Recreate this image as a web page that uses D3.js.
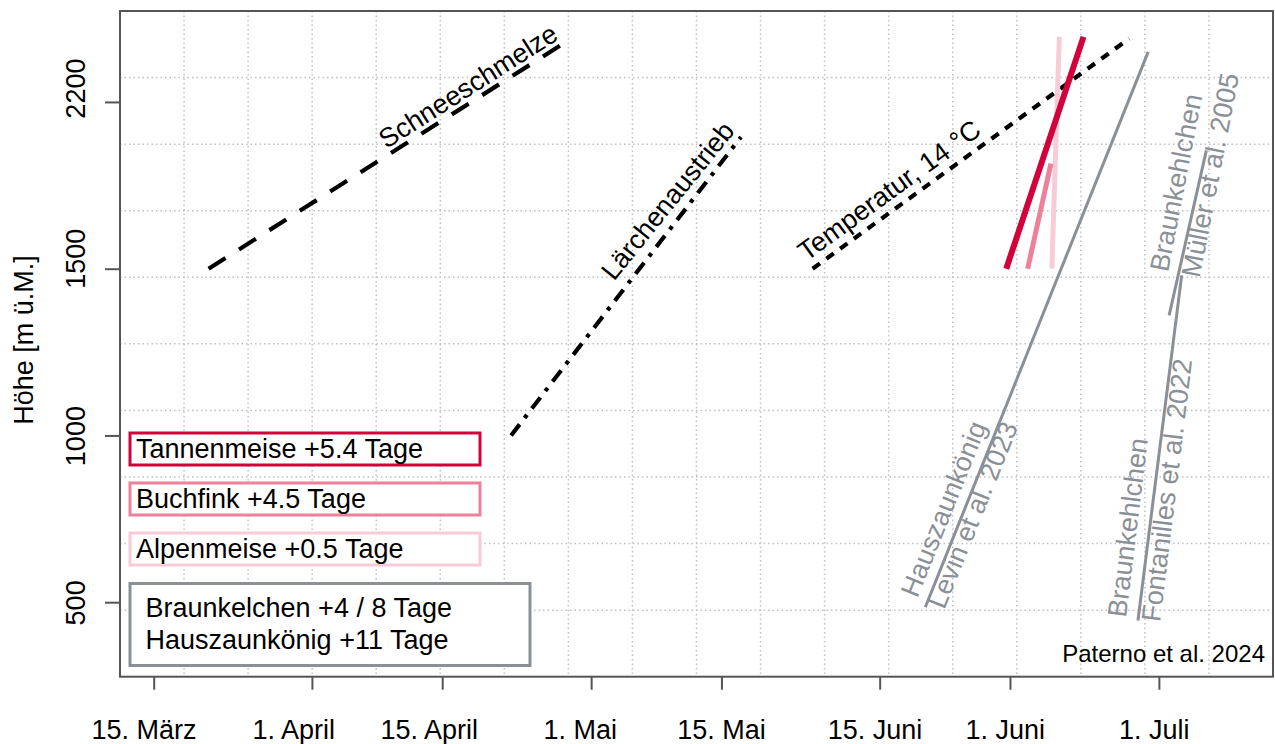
<!DOCTYPE html>
<html>
<head>
<meta charset="utf-8">
<script src="https://cdn.jsdelivr.net/npm/d3@7"></script>
<style>
  html, body { margin: 0; padding: 0; background: #fff; }
  svg { display: block; }
  text { font-family: "Liberation Sans", Arial, Helvetica, sans-serif; }
</style>
</head>
<body>
<svg id="chart" width="1275" height="744"></svg>
<script>
// ---------------- data (day of year, elevation m ü.M.) ----------------
const schneeschmelze          = [[79.9, 1500], [118.3, 2180]];
const laerchenaustrieb        = [[112.4, 1000], [137.1, 1895]];
const temperatur              = [[144.8, 1500], [178.8, 2190]];
const tannenmeise             = [[165.6, 1500], [173.9, 2195]];
const buchfink                = [[167.9, 1500], [170.4, 1815]];
const alpenmeise              = [[170.5, 1500], [171.3, 2195]];
const hauszaunkoenig          = [[156.9, 485], [180.85, 2150]];
const braunkehlchenFontanilles = [[179.75, 445], [184.45, 1480]];
const braunkehlchenMueller    = [[183.1, 1360], [187.1, 1855]];

// ticks
const xTickDays   = [74, 91, 105, 121, 135, 152, 166, 182];
const xTickLabels = ["15. März", "1. April", "15. April", "1. Mai", "15. Mai", "15. Juni", "1. Juni", "1. Juli"];
const xLabelDays  = [72.96, 89.05, 103.6, 119.84, 135.0, 151.5, 165.5, 181.5];
const yTickVals   = [500, 1000, 1500, 2000];
const yTickLabels = ["500", "1000", "1500", "2200"];
const yLabelVals  = [498, 998, 1530, 2040];

// legend
const legendTexts = ["Tannenmeise +5.4 Tage", "Buchfink +4.5 Tage", "Alpenmeise +0.5 Tage"];
const greyLegendTexts = ["Braunkelchen +4 / 8 Tage", "Hauszaunkönig +11 Tage"];

// annotations [text, day, elevation, angle]
const annotations = [
  ["Schneeschmelze", 107.77, 2048, -32.5, "black"],
  ["Lärchenaustrieb", 129.2, 1704, -51, "black"],
  ["Temperatur, 14 °C", 153.0, 1736, -36, "black"],
  ["Hauszaunkönig", 158.84, 780, -68, "grey"],
  ["Levin et al. 2023", 161.98, 762, -68, "grey"],
  ["Braunkehlchen", 178.63, 724, -83, "grey"],
  ["Fontanilles et al. 2022", 182.84, 836, -83, "grey"],
  ["Braunkehlchen", 183.82, 1758, -79, "grey"],
  ["Müller et al. 2005", 187.5, 1781, -79, "grey"]
];

// ---------------- layout ----------------
const L = 120, R = 1273, T = 11, B = 676.7;
const FS = 27;
const crimson = "#d4003a", pink = "#ec8199", lightpink = "#f8ccd7", grey = "#8b9096";
const frame = "#555";

const svg = d3.select("#chart");
svg.append("rect").attr("width", 1275).attr("height", 744).attr("fill", "#fff");

const x = d3.scaleLinear().domain([70.38, 194.26]).range([L, R]);
const y = d3.scaleLinear().domain([276.6, 2272.7]).range([B, T]);

// grid (equal divisions of plot region, like R grid(18,10))
const g = svg.append("g");
d3.range(1, 18).forEach(i => {
  const px = L + i * (R - L) / 18;
  g.append("line").attr("x1", px).attr("x2", px).attr("y1", T).attr("y2", B)
    .attr("stroke", "#c0c0c0").attr("stroke-width", 1.5).attr("stroke-dasharray", "1.5,3");
});
d3.range(1, 10).forEach(i => {
  const py = T + i * (B - T) / 10;
  g.append("line").attr("x1", L).attr("x2", R).attr("y1", py).attr("y2", py)
    .attr("stroke", "#c0c0c0").attr("stroke-width", 1.5).attr("stroke-dasharray", "1.5,3");
});

// axes
const xAxis = svg.append("g").attr("transform", `translate(0,${B})`)
  .call(d3.axisBottom(x).tickValues(xTickDays).tickFormat("").tickSize(13).tickSizeOuter(0));
const yAxis = svg.append("g").attr("transform", `translate(${L},0)`)
  .call(d3.axisLeft(y).tickValues(yTickVals).tickFormat("").tickSize(15).tickSizeOuter(0));
[xAxis, yAxis].forEach(a => {
  a.select(".domain").remove();
  a.selectAll(".tick line").attr("stroke", frame).attr("stroke-width", 2);
});

svg.append("g").selectAll("text").data(xTickLabels).join("text")
  .attr("x", (d, i) => x(xLabelDays[i])).attr("y", 739)
  .attr("text-anchor", "middle").attr("font-size", FS).attr("fill", "#000").text(d => d);

svg.append("g").selectAll("text").data(yTickLabels).join("text")
  .attr("transform", (d, i) => `translate(85,${y(yLabelVals[i])}) rotate(-90)`)
  .attr("text-anchor", "middle").attr("font-size", FS).attr("fill", "#000").text(d => d);

svg.append("text").attr("transform", "translate(33,340) rotate(-90)")
  .attr("text-anchor", "middle").attr("font-size", FS).attr("fill", "#000").text("Höhe [m ü.M.]");

// lines
const line = d3.line().x(d => x(d[0])).y(d => y(d[1]));
const drawLine = (data, color, width, dash) => {
  svg.append("path").datum(data).attr("d", line).attr("fill", "none")
    .attr("stroke", color).attr("stroke-width", width)
    .attr("stroke-dasharray", dash || null).attr("stroke-linecap", "butt");
};
drawLine(schneeschmelze, "#000", 4.2, "20,16");
drawLine(laerchenaustrieb, "#000", 4.2, "14,8,4,8");
drawLine(temperatur, "#000", 4.2, "9,8");
drawLine(hauszaunkoenig, grey, 3);
drawLine(braunkehlchenFontanilles, grey, 3);
drawLine(braunkehlchenMueller, grey, 3);
drawLine(alpenmeise, lightpink, 5);
drawLine(buchfink, pink, 5);
drawLine(tannenmeise, crimson, 6);

// annotations
svg.append("g").selectAll("text").data(annotations).join("text")
  .attr("transform", d => `translate(${x(d[1])},${y(d[2])}) rotate(${d[3]})`)
  .attr("dy", "0.35em").attr("text-anchor", "middle").attr("font-size", FS)
  .attr("fill", d => d[4] === "grey" ? grey : "#000").text(d => d[0]);

// legend boxes
const legColors = [crimson, pink, lightpink];
legendTexts.forEach((t, i) => {
  const top = 433 + i * 50;
  svg.append("rect").attr("x", 130).attr("y", top).attr("width", 350).attr("height", 32)
    .attr("fill", "#fff").attr("stroke", legColors[i]).attr("stroke-width", 3);
  svg.append("text").attr("x", 136).attr("y", top + 24.5).attr("font-size", FS).attr("fill", "#000").text(t);
});
svg.append("rect").attr("x", 130).attr("y", 583.5).attr("width", 400).attr("height", 82)
  .attr("fill", "#fff").attr("stroke", grey).attr("stroke-width", 3);
greyLegendTexts.forEach((t, i) => {
  svg.append("text").attr("x", 145.5).attr("y", 616.5 + i * 32.5).attr("font-size", FS).attr("fill", "#000").text(t);
});

svg.append("text").attr("x", 1265).attr("y", 662).attr("text-anchor", "end")
  .attr("font-size", 24).attr("fill", "#000").text("Paterno et al. 2024");

// frame
svg.append("rect").attr("x", L).attr("y", T).attr("width", R - L).attr("height", B - T)
  .attr("fill", "none").attr("stroke", frame).attr("stroke-width", 2);
</script>
</body>
</html>
